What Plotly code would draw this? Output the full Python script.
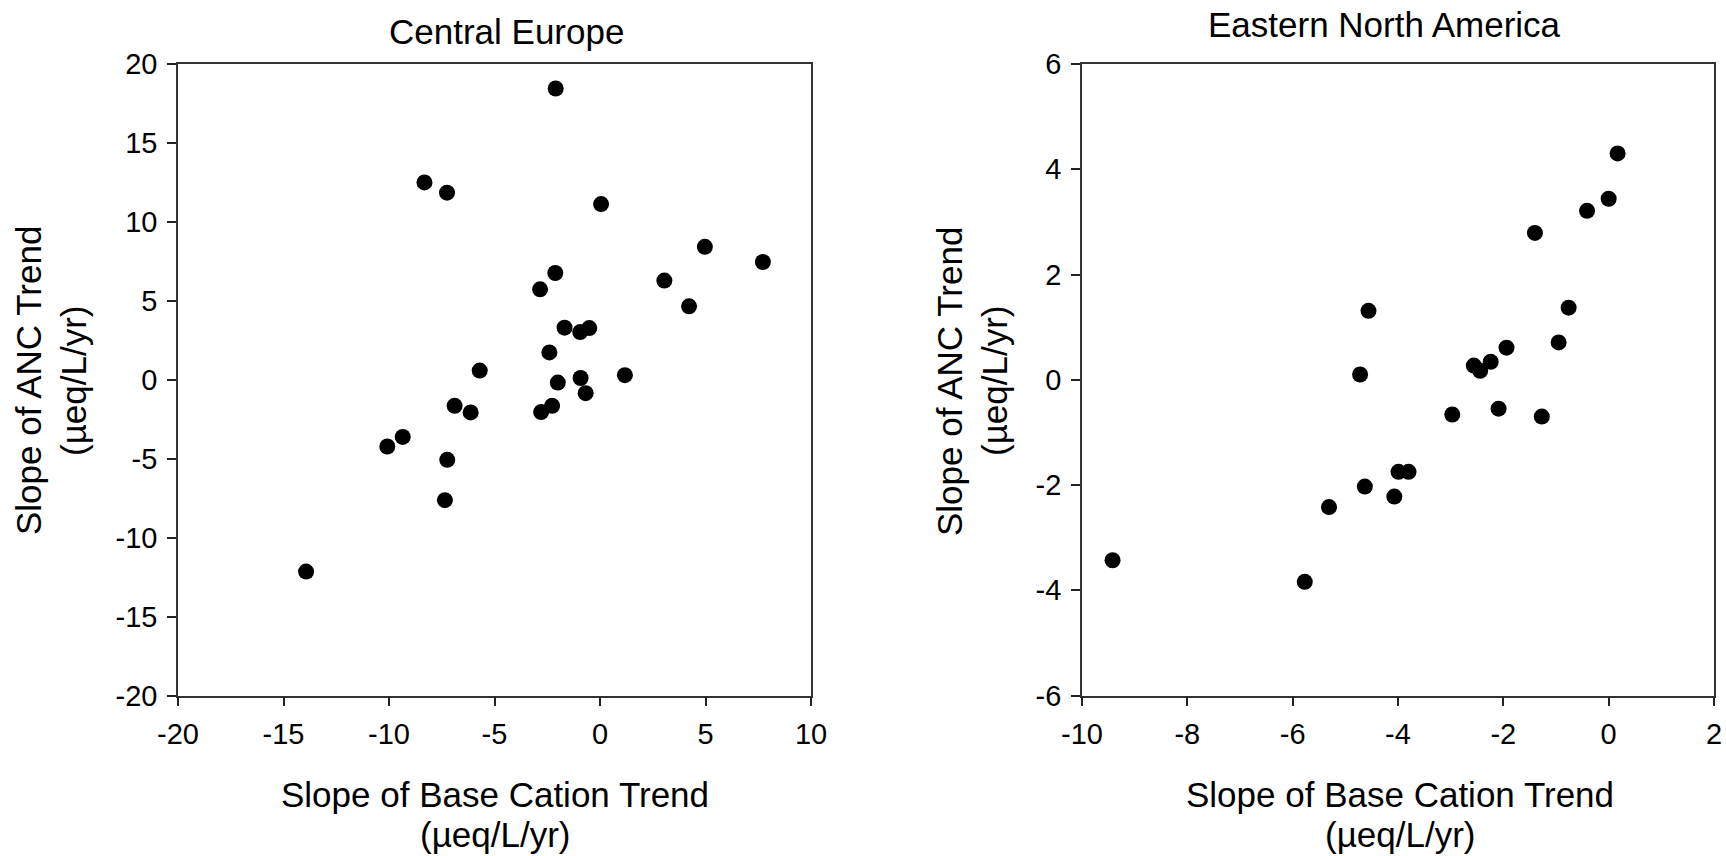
import plotly.graph_objects as go

# Central Europe: slope of base cation trend vs slope of ANC trend (µeq/L/yr)
ce_bc = [-2.10, -8.32, -7.25, 0.05, 4.97, 7.72, -2.12, -2.84, 3.05, 4.22,
         -1.68, -0.94, -0.51, -2.40, -5.70, 1.18, -0.92, -2.00, -0.68, -6.89,
         -6.13, -2.27, -2.79, -9.35, -10.08, -7.24, -7.35, -13.93]
ce_anc = [18.45, 12.50, 11.85, 11.13, 8.42, 7.46, 6.76, 5.73, 6.28, 4.65,
          3.30, 3.02, 3.27, 1.73, 0.58, 0.29, 0.11, -0.18, -0.85, -1.65,
          -2.07, -1.65, -2.05, -3.62, -4.23, -5.07, -7.63, -12.15]

# Eastern North America
ena_bc = [0.17, 0.00, -0.41, -1.40, -0.76, -4.56, -0.95, -1.94, -2.24, -2.56,
          -2.44, -4.72, -2.97, -2.09, -1.27, -3.99, -3.80, -4.63, -4.07, -5.31,
          -9.42, -5.77]
ena_anc = [4.30, 3.44, 3.21, 2.79, 1.37, 1.31, 0.71, 0.61, 0.34, 0.27,
           0.17, 0.10, -0.66, -0.55, -0.70, -1.75, -1.75, -2.03, -2.22, -2.42,
           -3.43, -3.84]

# tick values and their labels (plain hyphen as minus sign)
ce_xticks = [-20, -15, -10, -5, 0, 5, 10]
ce_xlabels = ["-20", "-15", "-10", "-5", "0", "5", "10"]
ce_yticks = [-20, -15, -10, -5, 0, 5, 10, 15, 20]
ce_ylabels = ["-20", "-15", "-10", "-5", "0", "5", "10", "15", "20"]
ena_xticks = [-10, -8, -6, -4, -2, 0, 2]
ena_xlabels = ["-10", "-8", "-6", "-4", "-2", "0", "2"]
ena_yticks = [-6, -4, -2, 0, 2, 4, 6]
ena_ylabels = ["-6", "-4", "-2", "0", "2", "4", "6"]

panel_titles = ["Central Europe", "Eastern North America"]
x_title = ["Slope of Base Cation Trend", "(µeq/L/yr)"]
y_title = ["Slope of ANC Trend", "(µeq/L/yr)"]

W, H = 1726, 856
FONT = "Liberation Sans, Arial, sans-serif"


def px(x):
    return x / W


def py(y):
    return 1 - y / H


fig = go.Figure()
marker = dict(color="black", size=16, line=dict(width=0))
fig.add_trace(go.Scatter(x=ce_bc, y=ce_anc, mode="markers", marker=marker,
                         xaxis="x", yaxis="y", showlegend=False))
fig.add_trace(go.Scatter(x=ena_bc, y=ena_anc, mode="markers", marker=marker,
                         xaxis="x2", yaxis="y2", showlegend=False))

axis_style = dict(
    showline=True, linecolor="#333333", linewidth=1.6, mirror=True,
    ticks="outside", ticklen=9, tickwidth=1.5, tickcolor="#222222",
    showgrid=False, zeroline=False, automargin=False,
    tickfont=dict(family=FONT, size=29, color="black"),
    fixedrange=True, tickmode="array",
)
xstyle = dict(axis_style, ticklabelstandoff=3)
ystyle = dict(axis_style, ticklabelstandoff=4)

ydom = [py(695.5), py(64)]
fig.update_layout(
    width=W, height=H,
    margin=dict(l=0, r=0, t=0, b=0, pad=0, autoexpand=False),
    paper_bgcolor="white", plot_bgcolor="white",
    xaxis=dict(domain=[px(178), px(811)], range=[-20, 10],
               tickvals=ce_xticks, ticktext=ce_xlabels,
               anchor="y", **xstyle),
    yaxis=dict(domain=ydom, range=[-20, 20],
               tickvals=ce_yticks, ticktext=ce_ylabels,
               anchor="x", **ystyle),
    xaxis2=dict(domain=[px(1082), px(1714)], range=[-10, 2],
                tickvals=ena_xticks, ticktext=ena_xlabels,
                anchor="y2", **xstyle),
    yaxis2=dict(domain=ydom, range=[-6, 6],
                tickvals=ena_yticks, ticktext=ena_ylabels,
                anchor="x2", **ystyle),
)

ann = []


def label(text, x, y, size, angle=0):
    ann.append(dict(text=text, x=px(x), y=py(y), xref="paper", yref="paper",
                    xanchor="center", yanchor="middle", showarrow=False,
                    textangle=angle,
                    font=dict(family=FONT, size=size, color="black")))


# panel titles
label(panel_titles[0], 506, 31, 35)
label(panel_titles[1], 1384, 24, 35)

# x-axis titles
for cx in (495, 1400):
    label(x_title[0], cx, 794, 35)
    label(x_title[1], cx, 834, 35)

# y-axis titles
for x1, x2 in ((29, 74), (950, 995)):
    label(y_title[0], x1, 381, 35, -90)
    label(y_title[1], x2, 381, 35, -90)

fig.update_layout(annotations=ann)
fig.write_html("out.html")
